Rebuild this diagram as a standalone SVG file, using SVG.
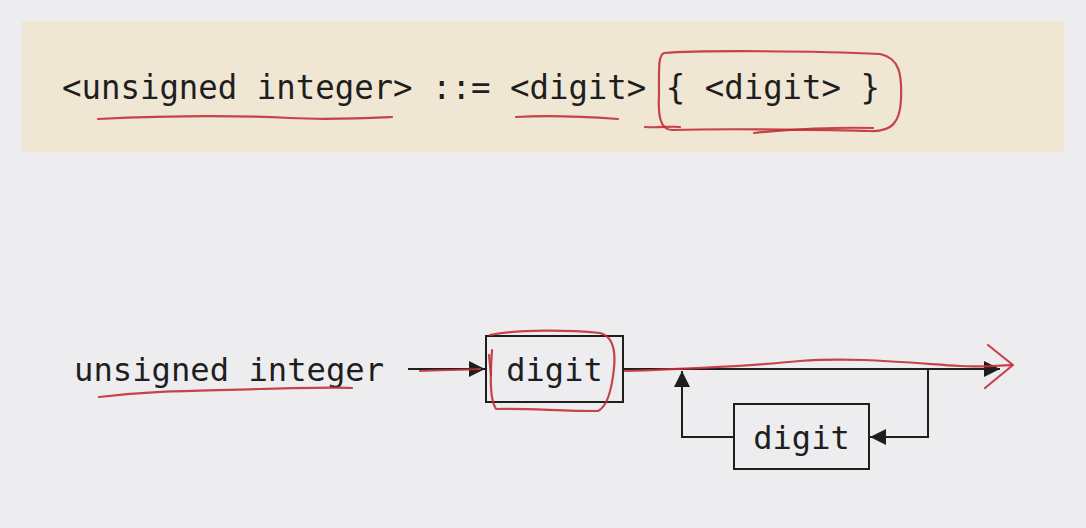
<svg xmlns="http://www.w3.org/2000/svg" width="1086" height="528" viewBox="0 0 1086 528">
<style>
.mono{font-family:"DejaVu Sans Mono","Liberation Mono",monospace;fill:#1e1e1e}
.box{fill:none;stroke:#1e1e1e;stroke-width:2}
.ln{fill:none;stroke:#1e1e1e;stroke-width:2}
.red{fill:none;stroke:#c2303a;stroke-width:2.2;stroke-linecap:round;stroke-linejoin:round;opacity:0.9}
</style>
<defs>
<marker id="ah" viewBox="0 0 10 10" refX="10" refY="5" markerWidth="8" markerHeight="8" markerUnits="userSpaceOnUse" orient="auto">
<path d="M0,0 L10,5 L0,10 z" fill="#1e1e1e"/>
</marker>
<marker id="ah2" viewBox="0 0 10 10" refX="10" refY="5" markerWidth="16" markerHeight="16" markerUnits="userSpaceOnUse" orient="auto">
<path d="M0,0 L10,5 L0,10 z" fill="#1e1e1e"/>
</marker>
</defs>
<rect width="1086" height="528" fill="#ededf0"/>
<rect x="22" y="21" width="1042" height="131" fill="#efe7d4"/>
<g id="rule">
<text class="mono" x="62" y="99" font-size="33.5" textLength="818" lengthAdjust="spacingAndGlyphs">&lt;unsigned integer&gt; ::= &lt;digit&gt; { &lt;digit&gt; }</text>
</g>
<g id="label">
<text class="mono" x="74" y="381" font-size="32" textLength="310" lengthAdjust="spacingAndGlyphs">unsigned integer</text>
</g>
<g id="digit1">
<rect class="box" x="486" y="336" width="137" height="66"/>
<text class="mono" x="554.5" y="381" font-size="32" text-anchor="middle">digit</text>
</g>
<g id="digit2">
<rect class="box" x="734" y="404" width="135" height="65"/>
<text class="mono" x="801.5" y="449" font-size="32" text-anchor="middle">digit</text>
</g>
<g id="connectors">
<line class="ln" x1="408" y1="369" x2="485" y2="369" marker-end="url(#ah2)"/>
<line class="ln" x1="623" y1="369" x2="1000" y2="369" marker-end="url(#ah2)"/>
<polyline class="ln" points="928,369 928,437 870,437" marker-end="url(#ah2)"/>
<polyline class="ln" points="734,437 682,437 682,371" marker-end="url(#ah2)"/>
</g>
<g id="annotations">
<path class="red" d="M98,119 C160,116 230,115 290,118 C330,120 370,118 392,117"/>
<path class="red" d="M516,117 C550,115 590,117 618,119"/>
<path class="red" d="M664,53 C700,50 820,51 880,54 C900,58 902,75 901,100 C900,122 892,132 870,131 C820,130 740,128 672,130 C660,130 658,115 659,95 C659,70 658,55 664,53 Z"/>
<path class="red" d="M645,127 C660,128 670,126 680,127"/>
<path class="red" d="M754,133 C790,129 840,127 873,128"/>
<path class="red" d="M99,397 C160,390 200,391 260,389 C300,388 330,387 352,388"/>
<path class="red" d="M420,371 C440,370 460,370 480,369"/>
<path class="red" d="M490,335 C520,329 570,330 600,333 C612,336 616,348 614,368 C612,388 608,406 598,411 C560,411 525,408 496,409 C490,400 490,380 492,350"/>
<path class="red" d="M489,355 L491,375"/>
<path class="red" d="M625,371 C680,369 760,365 800,361 C850,357 900,362 960,366 C980,367 995,366 1011,365"/>
<path class="red" d="M988,345 L1013,365 L985,388"/>
</g>
</svg>
